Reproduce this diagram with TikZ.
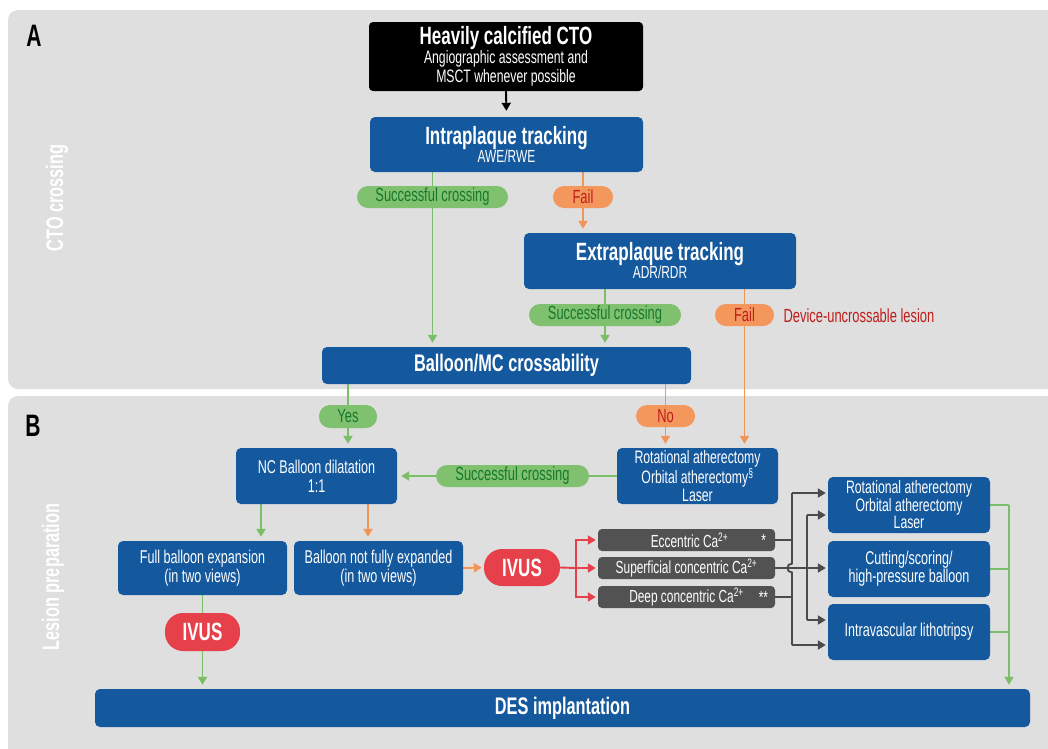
\documentclass[tikz,border=0pt]{standalone}
\usepackage{fontspec}
\setmainfont{Liberation Sans}[FakeStretch=0.68]
\usetikzlibrary{arrows.meta,calc}
\definecolor{panel}{RGB}{223,223,223}
\definecolor{blueC}{RGB}{20,88,158}
\definecolor{greenF}{RGB}{127,193,111}
\definecolor{greenT}{RGB}{22,120,45}
\definecolor{greenL}{RGB}{122,190,104}
\definecolor{orangeF}{RGB}{244,151,92}
\definecolor{orangeT}{RGB}{192,28,28}
\definecolor{orangeL}{RGB}{240,148,88}
\definecolor{redC}{RGB}{230,64,74}
\definecolor{grayB}{RGB}{82,82,82}
\definecolor{grayL}{RGB}{75,75,75}
\pgfdeclarelayer{back}
\pgfdeclarelayer{lines}
\pgfsetlayers{back,lines,main}
\newcommand{\fz}[2]{\fontsize{#1}{#2}\selectfont}
\begin{document}
\begin{tikzpicture}[x=1pt,y=-1pt,
  box/.style={fill=blueC, rounded corners=5pt, text=white, align=center, inner sep=0pt, font=\fz{18.5}{19}},
  pill/.style={rounded corners=11pt, minimum height=22pt, inner sep=0pt, font=\fz{19}{19}},
  gpill/.style={pill, fill=greenF, text=greenT},
  opill/.style={pill, fill=orangeF, text=orangeT},
  ivus/.style={fill=redC, text=white, rounded corners=18pt, minimum height=37pt, inner sep=0pt, font=\fz{25}{25}\bfseries},
  gbox/.style={fill=grayB, text=white, rounded corners=4pt, minimum width=177pt, minimum height=22pt, inner sep=0pt, font=\fz{17.5}{17.5}},
  star/.style={text=white, font=\fz{17.5}{17.5}, anchor=east, inner sep=0pt, xshift=-9pt},
  tip/.style={-{Triangle[length=8pt,width=9pt]}, shorten >=4pt},
  gline/.style={draw=greenL, line width=1.9pt},
  oline/.style={draw=orangeL, line width=1.9pt},
  rline/.style={draw=redC, line width=1.9pt},
  kline/.style={draw=grayL, line width=1.9pt},
  bline/.style={draw=black, line width=1.9pt}
]
\useasboundingbox (0,0) rectangle (1048,748);
\begin{pgfonlayer}{back}
\fill[white] (0,0) rectangle (1048,748);
\fill[panel, rounded corners=10pt] (8,10) rectangle (1070,389);
\fill[panel, rounded corners=10pt] (8,396) rectangle (1070,770);
\end{pgfonlayer}

% panel labels
\node[font=\fz{31}{31}\bfseries] (la) at (34,36) {A};
\node[font=\fz{31}{31}\bfseries] (lb) at (33,426) {B};
\node[rotate=90, text=white, font=\fz{24}{24}\bfseries] (va) at (57,198) {CTO crossing};
\node[rotate=90, text=white, font=\fz{24}{24}\bfseries] (vb) at (53,577) {Lesion preparation};

% section A
\node[box, fill=black, rounded corners=4pt, minimum width=274pt, minimum height=69pt, font=\fz{18}{19}] (cto) at (506,56.5)
  {{\fz{25}{25}\bfseries Heavily calcified CTO}\\[0pt]Angiographic assessment and\\MSCT whenever possible};
\node[box, minimum width=273pt, minimum height=55pt] (intra) at (506.5,144.5)
  {{\fz{25}{25}\bfseries Intraplaque tracking}\\[-1pt]{\fz{17.5}{17.5}AWE/RWE}};
\node[gpill, minimum width=151pt] (s1) at (432.5,197) {Successful crossing};
\node[opill, minimum width=60pt] (f1) at (583,197) {Fail};
\node[box, minimum width=272pt, minimum height=56pt] (extra) at (660,261)
  {{\fz{25}{25}\bfseries Extraplaque tracking}\\[-1pt]{\fz{17.5}{17.5}ADR/RDR}};
\node[gpill, minimum width=152pt] (s2) at (605,315) {Successful crossing};
\node[opill, minimum width=59pt] (f2) at (744.5,315) {Fail};
\node[anchor=west, text=orangeT, font=\fz{19}{19}] (dul) at (780,316) {Device-uncrossable lesion};
\node[box, minimum width=369pt, minimum height=37pt, font=\fz{24}{24}\bfseries] (bmc) at (506.5,365.5) {Balloon/MC crossability};

% section B
\node[gpill, minimum width=58pt, minimum height=23pt] (yes) at (348,416.5) {Yes};
\node[opill, minimum width=59pt] (no) at (665.5,416) {No};
\node[box, minimum width=161pt, minimum height=56pt] (nc) at (316.5,476) {NC Balloon dilatation\\1:1};
\node[box, minimum width=161pt, minimum height=56pt, font=\fz{18}{15.5}] (rot1) at (697.5,476)
  {Rotational atherectomy\\Orbital atherectomy\textsuperscript{\S}\\Laser};
\node[gpill, minimum width=153pt] (s3) at (512.5,476) {Successful crossing};
\node[box, minimum width=169pt, minimum height=54pt] (full) at (202.5,568) {Full balloon expansion\\(in two views)};
\node[box, minimum width=169pt, minimum height=54pt] (nfull) at (378.5,568) {Balloon not fully expanded\\(in two views)};
\node[ivus, minimum width=76pt] (iv2) at (522,567.5) {IVUS};
\node[ivus, minimum width=75pt, minimum height=38pt] (iv1) at (202.5,632) {IVUS};
\node[gbox, label={[star]east:*}] (ecc) at (686.5,540) {\hspace{6pt}Eccentric Ca\textsuperscript{2+}};
\node[gbox] (sup) at (686.5,568) {Superficial concentric Ca\textsuperscript{2+}};
\node[gbox, label={[star, xshift=2pt]east:**}] (deep) at (686.5,597) {Deep concentric Ca\textsuperscript{2+}\hspace{22pt}};
\node[box, minimum width=162pt, minimum height=56pt, font=\fz{18}{15.5}] (rot2) at (909,505)
  {Rotational atherectomy\\Orbital atherectomy\\Laser};
\node[box, minimum width=162pt, minimum height=56pt, font=\fz{18.5}{18}] (cut) at (909,569)
  {Cutting/scoring/\\high-pressure balloon};
\node[box, minimum width=162pt, minimum height=56pt] (ivl) at (909,632) {Intravascular lithotripsy};
\node[box, minimum width=935pt, minimum height=38pt, font=\fz{24}{24}\bfseries] (des) at (562.5,708) {DES implantation};

\coordinate (rb) at (576,568);
\coordinate (b1) at (792,493);
\coordinate (b2) at (792,645);
\coordinate (c1) at (807,515);
\coordinate (c2) at (807,620);
\coordinate (g1) at (1009,504);

\begin{pgfonlayer}{lines}
\draw[bline, tip, shorten >=6pt] (cto.south) -- (intra.north);
\draw[gline, tip] (intra.south -| s1.center) -- (bmc.north -| s1.center);
\draw[oline, tip] (intra.south -| f1.center) -- (extra.north -| f1.center);
\draw[gline, tip] (extra.south -| s2.center) -- (bmc.north -| s2.center);
\draw[oline, tip] (extra.south -| f2.center) -- (rot1.north -| f2.center);
\draw[gline, tip] (bmc.south -| yes.center) -- (nc.north -| yes.center);
\draw[oline, tip] (bmc.south -| no.center) -- (rot1.north -| no.center);
\draw[gline, tip] (rot1.west) -- (nc.east);
\draw[gline, tip] ([xshift=-55.5pt]nc.south) -- ([xshift=58.5pt]full.north);
\draw[oline, tip] ([xshift=51.5pt]nc.south) -- ([xshift=-10.5pt]nfull.north);
\draw[oline, tip, shorten >=2pt] (nfull.east) -- (iv2.west);
\draw[gline] (full.south) -- (iv1.north);
\draw[gline, tip] (iv1.south) -- (iv1.south |- des.north);
\draw[rline, tip, shorten >=2pt] (iv2.east) -- (rb) |- (ecc.west);
\draw[rline, tip, shorten >=2pt] (rb) -- (sup.west);
\draw[rline, tip, shorten >=2pt] (rb) |- (deep.west);
% gray buses
\draw[kline] (ecc.east) -- (ecc.east -| b1);
\draw[kline] (deep.east) -- (deep.east -| b1);
\draw[kline] (b1) -- ($(sup.east -| b1)+(0,-4.5)$) .. controls +(-6,0) and +(-6,0) .. ($(sup.east -| b1)+(0,4.5)$) -- (b2);
\draw[kline, tip, shorten >=2pt] (b1) -- (b1 -| rot2.west);
\draw[kline, tip, shorten >=2pt] (b2) -- (b2 -| ivl.west);
\draw[kline, tip, shorten >=2pt] (sup.east) -- (sup.east -| cut.west);
\draw[kline] (c1) -- (c2);
\draw[kline, tip, shorten >=2pt] (c1) -- (c1 -| rot2.west);
\draw[kline, tip, shorten >=2pt] (c2) -- (c2 -| ivl.west);
% green collector
\draw[gline] (rot2.east) -- (rot2.east -| g1);
\draw[gline] (cut.east) -- (cut.east -| g1);
\draw[gline] (ivl.east) -- (ivl.east -| g1);
\draw[gline, tip] (rot2.east -| g1) -- (des.north -| g1);
\end{pgfonlayer}
\end{tikzpicture}
\end{document}
